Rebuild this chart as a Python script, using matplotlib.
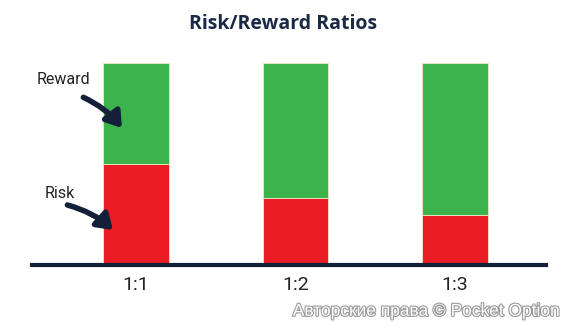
import matplotlib.pyplot as plt
import matplotlib.patheffects as pe

ratios = ["1:1", "1:2", "1:3"]
risk = [0.5, 0.33, 0.25]
reward = [0.5, 0.67, 0.75]

NAVY = "#14203a"
GREEN = "#3cb44b"
RED = "#ec1c24"

fig = plt.figure(figsize=(5.66, 3.22), dpi=100)
ax = fig.add_axes([32 / 566, 57 / 322, 514 / 566, 202 / 322])

x = range(len(ratios))
ax.bar(x, risk, width=0.41, color=RED, edgecolor="#f3e6c8", linewidth=0.6)
ax.bar(x, reward, bottom=risk, width=0.41, color=GREEN, edgecolor="#f3e6c8", linewidth=0.6)

ax.set_xlim(-0.652, 2.571)
ax.set_ylim(0, 1)
for s in ["top", "left", "right"]:
    ax.spines[s].set_visible(False)
ax.spines["bottom"].set_color(NAVY)
ax.spines["bottom"].set_linewidth(3)
ax.set_yticks([])
ax.set_xticks(list(x))
ax.set_xticklabels(ratios, fontsize=14, family="Roboto", color="#222222")
ax.tick_params(axis="x", length=0, pad=8)

fig.text(0.5, 0.925, "Risk/Reward Ratios", ha="center", va="center",
         fontsize=14, fontweight="bold", family="Open Sans", color="#1b2a44")

arrow = dict(arrowstyle="-|>,head_length=0.9,head_width=0.6", color=NAVY,
             lw=4, shrinkA=0, shrinkB=0, connectionstyle="arc3,rad=-0.12")
ax.text(-0.455, 0.916, "Reward", ha="center", va="center", fontsize=11.5,
        family="Roboto", color="#222222")
ax.annotate("", xy=(-0.088, 0.678), xytext=(-0.33, 0.83), arrowprops=arrow)
ax.text(-0.476, 0.356, "Risk", ha="center", va="center", fontsize=11.5,
        family="Roboto", color="#222222")
ax.annotate("", xy=(-0.144, 0.173), xytext=(-0.43, 0.297), arrowprops=arrow)

wm = fig.text(0.99, 0.01, "Авторские права © Pocket Option", ha="right", va="bottom",
              fontsize=12.5, family="Liberation Sans", color="white")
wm.set_path_effects([pe.withStroke(linewidth=1.6, foreground="#9a9a9a")])

fig.savefig("out.png", dpi=100)
